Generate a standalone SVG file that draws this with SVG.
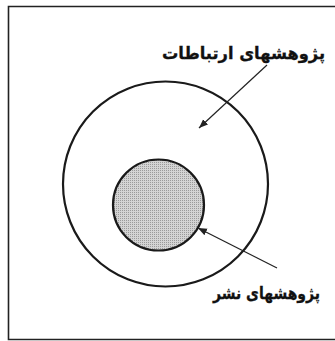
<svg xmlns="http://www.w3.org/2000/svg" width="335" height="341" viewBox="0 0 335 341">
<style>
.lbl{font-family:"DejaVu Sans",sans-serif;font-weight:bold;font-size:17px;fill:#111;stroke:#111;stroke-width:0.3;}
.ring{fill:none;stroke:#1a1a1a;stroke-width:2.2;}
.conn{stroke:#222;stroke-width:1.2;fill:none;}
</style>
<defs>
<marker id="ah" viewBox="0 0 10 10" refX="10" refY="5" markerWidth="9" markerHeight="9" markerUnits="userSpaceOnUse" orient="auto">
<path d="M0,1 L10,5 L0,9 Z" fill="#222"/>
</marker>
<pattern id="dots" width="2" height="2" patternUnits="userSpaceOnUse">
<rect width="2" height="2" fill="#d4d4d4"/>
<rect width="1" height="1" fill="#9a9a9a"/>
</pattern>
</defs>
<rect x="0" y="0" width="335" height="341" fill="#fff"/>
<path id="frame" d="M340,6.5 H8.5 V339.5 H340" fill="none" stroke="#222" stroke-width="1.6"/>
<g id="outer">
<circle class="ring" cx="165.5" cy="184" r="102.5"/>
</g>
<g id="inner">
<circle cx="158.5" cy="205" r="45.5" fill="url(#dots)" stroke="#1a1a1a" stroke-width="2.2"/>
</g>
<g id="label-outer">
<text class="lbl" x="325" y="59" text-anchor="end" textLength="163" lengthAdjust="spacingAndGlyphs">پژوهشهای ارتباطات</text>
</g>
<g id="label-inner">
<text class="lbl" x="320" y="299" text-anchor="end" textLength="107" lengthAdjust="spacingAndGlyphs">پژوهشهای نشر</text>
</g>
<g id="connectors">
<line class="conn" x1="267" y1="65" x2="199" y2="128" marker-end="url(#ah)"/>
<line class="conn" x1="277" y1="268" x2="198" y2="228" marker-end="url(#ah)"/>
</g>
</svg>
